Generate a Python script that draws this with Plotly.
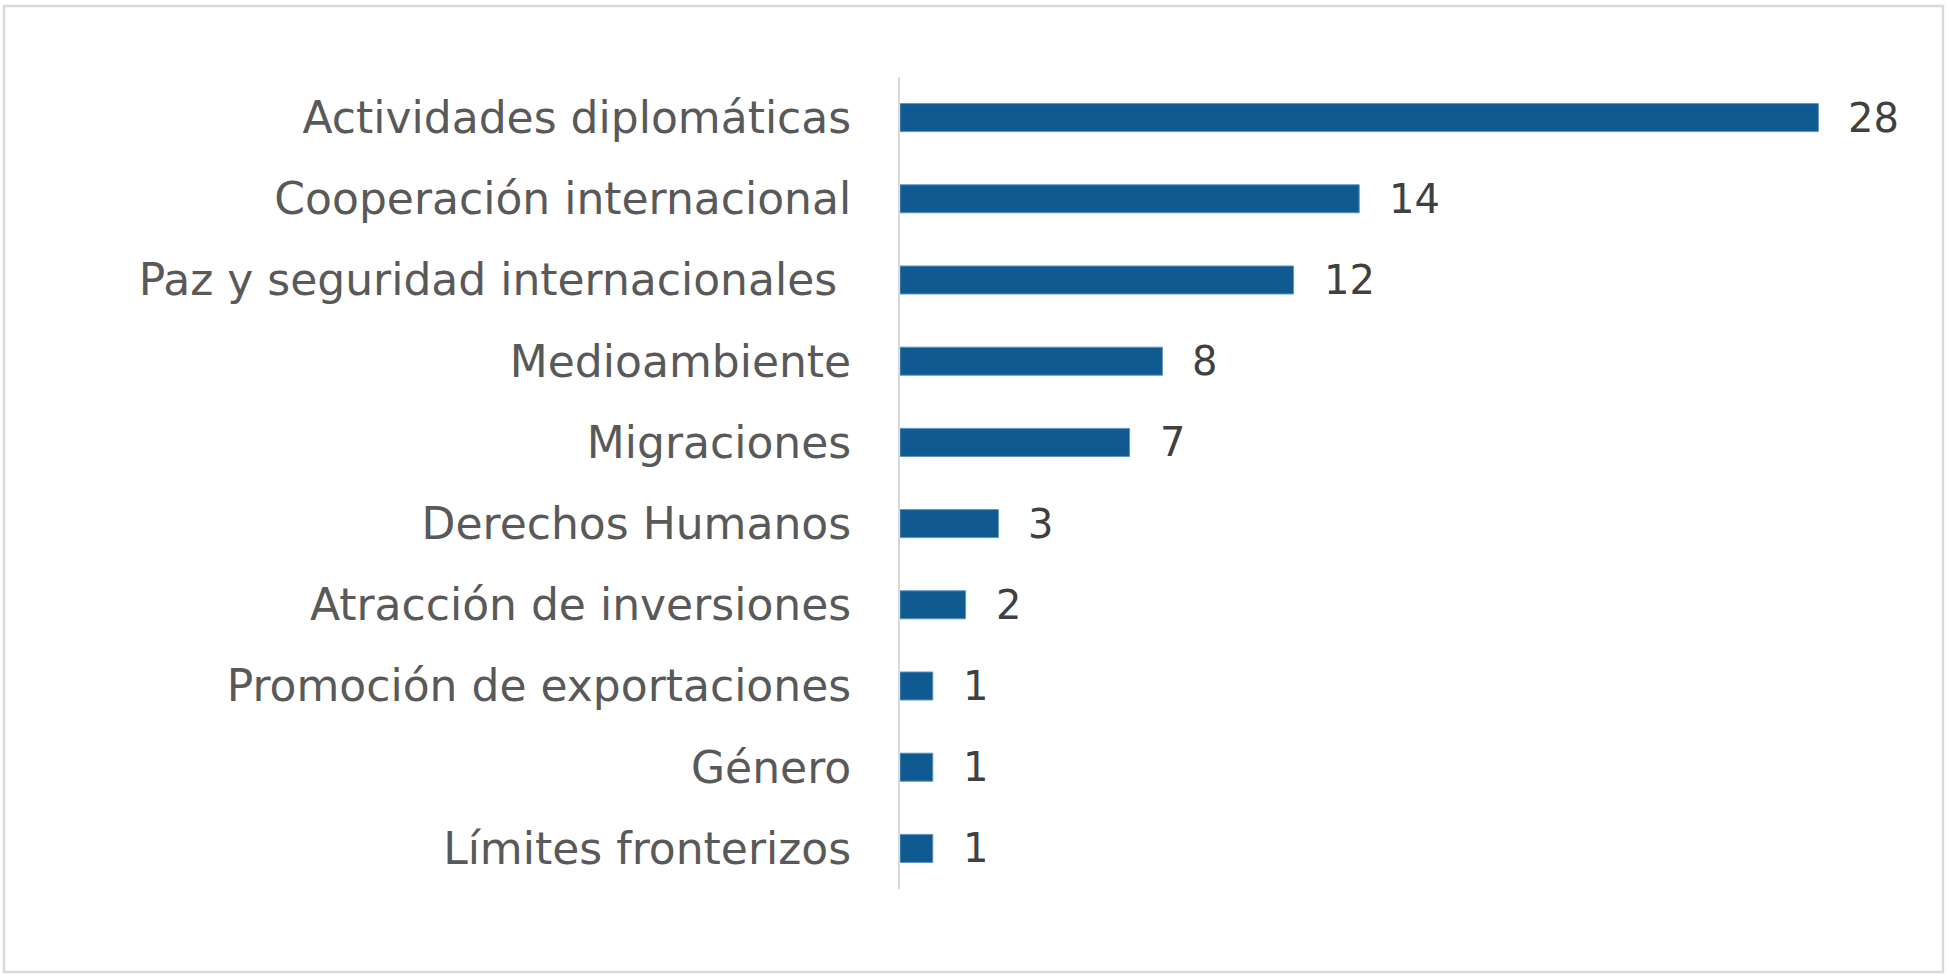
import plotly.graph_objects as go

categories = [
    "Actividades diplomáticas",
    "Cooperación internacional",
    "Paz y seguridad internacionales\u00a0",
    "Medioambiente",
    "Migraciones",
    "Derechos Humanos",
    "Atracción de inversiones",
    "Promoción de exportaciones",
    "Género",
    "Límites fronterizos",
]
values = [28, 14, 12, 8, 7, 3, 2, 1, 1, 1]

W, H = 1949, 980
L, R, T, B = 900, 44, 77, 91
pw, ph = W - L - R, H - T - B
xmax = pw / 32.8

fig = go.Figure()
fig.add_trace(go.Bar(
    x=values, y=categories, orientation="h",
    marker=dict(color="#0f5a91", line=dict(color="#5f93c2", width=1)),
    width=0.345, hoverinfo="skip",
))

for c, v in zip(categories, values):
    fig.add_annotation(x=v, y=c, text=str(v), showarrow=False,
                       xanchor="left", yanchor="middle", xshift=28,
                       font=dict(family="DejaVu Sans", size=40, color="#404040"))

def px_x(p):
    return (p - L) / pw

def px_y(p):
    return (H - B - p) / ph

fig.add_shape(type="rect", xref="paper", yref="paper",
              x0=px_x(4), x1=px_x(1943), y0=px_y(972), y1=px_y(6),
              line=dict(color="#d9d9d9", width=2.5), layer="below")

fig.update_layout(
    width=W, height=H,
    margin=dict(l=L, r=R, t=T, b=B),
    plot_bgcolor="white", paper_bgcolor="white",
    showlegend=False,
    font=dict(family="DejaVu Sans", size=44, color="#595959"),
)
fig.update_xaxes(range=[0, xmax], visible=False, showgrid=False, zeroline=False)
fig.update_yaxes(
    autorange="reversed", showgrid=False, zeroline=False,
    showline=True, linecolor="#d9d9d9", linewidth=2,
    ticks="outside", ticklen=38, tickcolor="rgba(0,0,0,0)",
    tickfont=dict(family="DejaVu Sans", size=44, color="#595959"),
)

fig.write_html("out.html", config={"displayModeBar": False},
               post_script="document.body.style.margin='0';")
